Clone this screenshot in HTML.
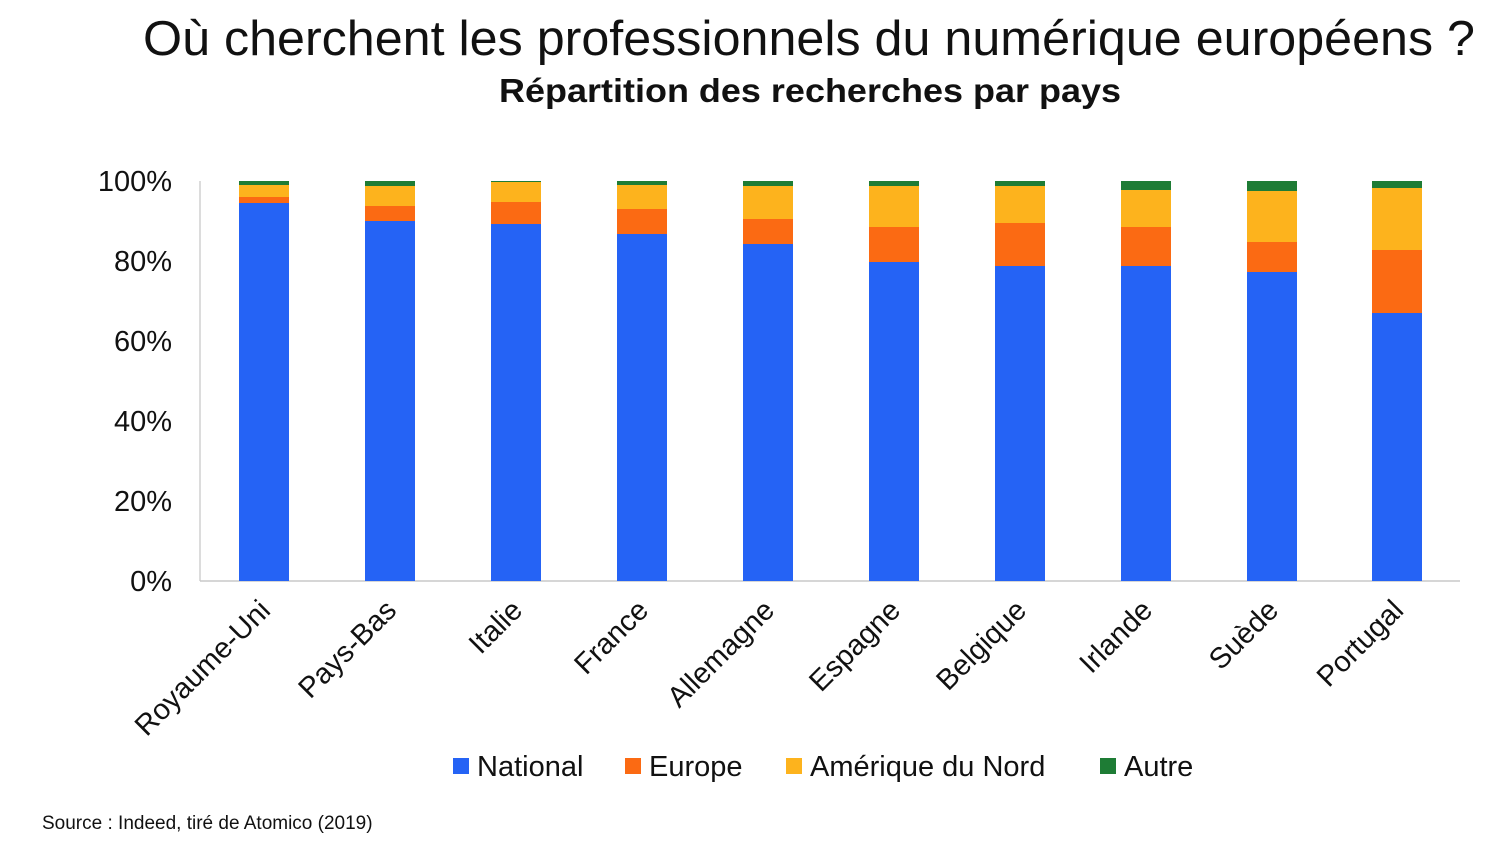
<!DOCTYPE html>
<html><head><meta charset="utf-8"><style>
body{margin:0;background:#fff;}
svg{display:block;font-family:"Liberation Sans",sans-serif;}
</style></head><body>
<svg width="1512" height="862" xmlns="http://www.w3.org/2000/svg">
<text x="809" y="55" text-anchor="middle" font-size="49" textLength="1332" lengthAdjust="spacingAndGlyphs" fill="#111">Où cherchent les professionnels du numérique européens ?</text>
<text x="810" y="102" text-anchor="middle" font-size="33" font-weight="bold" textLength="622" lengthAdjust="spacingAndGlyphs" fill="#111">Répartition des recherches par pays</text>
<g font-size="29" fill="#111" text-anchor="end">
<text x="172" y="191">100%</text><text x="172" y="271">80%</text><text x="172" y="351">60%</text>
<text x="172" y="431">40%</text><text x="172" y="511">20%</text><text x="172" y="591">0%</text>
</g>
<line x1="200" y1="181" x2="200" y2="581" stroke="#d0d0d0" stroke-width="1.5"/>
<line x1="200" y1="581" x2="1460" y2="581" stroke="#c8c8c8" stroke-width="1.5"/>
<g>
<rect x="239" y="203" width="50" height="378" fill="#2563f5"/><rect x="239" y="197" width="50" height="6" fill="#fb6a13"/><rect x="239" y="185" width="50" height="12" fill="#fdb31d"/><rect x="239" y="181" width="50" height="4" fill="#1e7c35"/>
<rect x="365" y="221" width="50" height="360" fill="#2563f5"/><rect x="365" y="206" width="50" height="15" fill="#fb6a13"/><rect x="365" y="186" width="50" height="20" fill="#fdb31d"/><rect x="365" y="181" width="50" height="5" fill="#1e7c35"/>
<rect x="491" y="224" width="50" height="357" fill="#2563f5"/><rect x="491" y="202" width="50" height="22" fill="#fb6a13"/><rect x="491" y="182" width="50" height="20" fill="#fdb31d"/><rect x="491" y="181" width="50" height="1" fill="#1e7c35"/>
<rect x="617" y="234" width="50" height="347" fill="#2563f5"/><rect x="617" y="209" width="50" height="25" fill="#fb6a13"/><rect x="617" y="185" width="50" height="24" fill="#fdb31d"/><rect x="617" y="181" width="50" height="4" fill="#1e7c35"/>
<rect x="743" y="244" width="50" height="337" fill="#2563f5"/><rect x="743" y="219" width="50" height="25" fill="#fb6a13"/><rect x="743" y="186" width="50" height="33" fill="#fdb31d"/><rect x="743" y="181" width="50" height="5" fill="#1e7c35"/>
<rect x="869" y="262" width="50" height="319" fill="#2563f5"/><rect x="869" y="227" width="50" height="35" fill="#fb6a13"/><rect x="869" y="186" width="50" height="41" fill="#fdb31d"/><rect x="869" y="181" width="50" height="5" fill="#1e7c35"/>
<rect x="995" y="266" width="50" height="315" fill="#2563f5"/><rect x="995" y="223" width="50" height="43" fill="#fb6a13"/><rect x="995" y="186" width="50" height="37" fill="#fdb31d"/><rect x="995" y="181" width="50" height="5" fill="#1e7c35"/>
<rect x="1121" y="266" width="50" height="315" fill="#2563f5"/><rect x="1121" y="227" width="50" height="39" fill="#fb6a13"/><rect x="1121" y="190" width="50" height="37" fill="#fdb31d"/><rect x="1121" y="181" width="50" height="9" fill="#1e7c35"/>
<rect x="1247" y="272" width="50" height="309" fill="#2563f5"/><rect x="1247" y="242" width="50" height="30" fill="#fb6a13"/><rect x="1247" y="191" width="50" height="51" fill="#fdb31d"/><rect x="1247" y="181" width="50" height="10" fill="#1e7c35"/>
<rect x="1372" y="313" width="50" height="268" fill="#2563f5"/><rect x="1372" y="250" width="50" height="63" fill="#fb6a13"/><rect x="1372" y="188" width="50" height="62" fill="#fdb31d"/><rect x="1372" y="181" width="50" height="7" fill="#1e7c35"/>
</g>
<g font-size="29" fill="#111" text-anchor="end">
<text transform="translate(272,612) rotate(-45)">Royaume-Uni</text>
<text transform="translate(398,612) rotate(-45)">Pays-Bas</text>
<text transform="translate(524,612) rotate(-45)">Italie</text>
<text transform="translate(650,612) rotate(-45)">France</text>
<text transform="translate(776,612) rotate(-45)">Allemagne</text>
<text transform="translate(902,612) rotate(-45)">Espagne</text>
<text transform="translate(1028,612) rotate(-45)">Belgique</text>
<text transform="translate(1154,612) rotate(-45)">Irlande</text>
<text transform="translate(1280,612) rotate(-45)">Suède</text>
<text transform="translate(1405,612) rotate(-45)">Portugal</text>
</g>
<g font-size="29" fill="#111">
<rect x="453" y="758" width="16" height="16" fill="#2563f5"/><text x="477" y="776">National</text>
<rect x="625" y="758" width="16" height="16" fill="#fb6a13"/><text x="649" y="776">Europe</text>
<rect x="786" y="758" width="16" height="16" fill="#fdb31d"/><text x="810" y="776">Amérique du Nord</text>
<rect x="1100" y="758" width="16" height="16" fill="#1e7c35"/><text x="1124" y="776">Autre</text>
</g>
<text x="42" y="829" font-size="19" fill="#111">Source : Indeed, tiré de Atomico (2019)</text>
</svg>
</body></html>
